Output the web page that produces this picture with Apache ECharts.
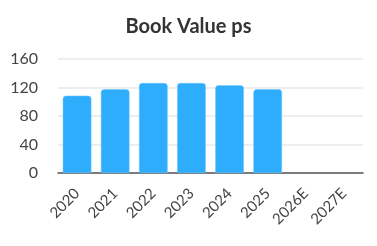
<!DOCTYPE html>
<html><head><meta charset="utf-8">
<script src="https://cdn.jsdelivr.net/npm/echarts@6/dist/echarts.min.js"></script>
<style>html,body{margin:0;padding:0;background:#fff}#c{width:377px;height:246px}</style>
</head><body><div id="c"></div>
<script>
const categories = ['2020','2021','2022','2023','2024','2025','2026E','2027E'];
const values = [108.5, 117.5, 126.3, 126.3, 123, 117.5, null, null];
const yTicks = [0, 40, 80, 120, 160];
const chart = echarts.init(document.getElementById('c'));
chart.setOption({
  animation: false,
  title: { text: 'Book Value ps', left: 'center', top: 12,
    textStyle: { fontFamily: 'Lato', fontWeight: 'bold', fontSize: 20, color: '#333' } },
  grid: { left: 58, right: 14, top: 59, bottom: 73 },
  xAxis: { type: 'category', data: categories,
    axisLine: { lineStyle: { color: '#555', width: 1.5 } },
    axisTick: { show: false },
    axisLabel: { rotate: 45, fontFamily: 'Lato', fontSize: 15, color: '#444', margin: 18 } },
  yAxis: { type: 'value', min: yTicks[0], max: yTicks[yTicks.length-1], interval: 40,
    axisLine: { show: false }, axisTick: { show: false },
    axisLabel: { fontFamily: 'Lato', fontSize: 16, color: '#444', margin: 20 },
    splitLine: { lineStyle: { color: '#e8e8e8', width: 1.5 } } },
  series: [{ type: 'bar', data: values, barCategoryGap: '25%',
    itemStyle: { color: '#2eadfd', borderRadius: [3,3,0,0], borderColor: '#6cc6ff', borderWidth: 0.5 } }]
});
</script></body></html>
